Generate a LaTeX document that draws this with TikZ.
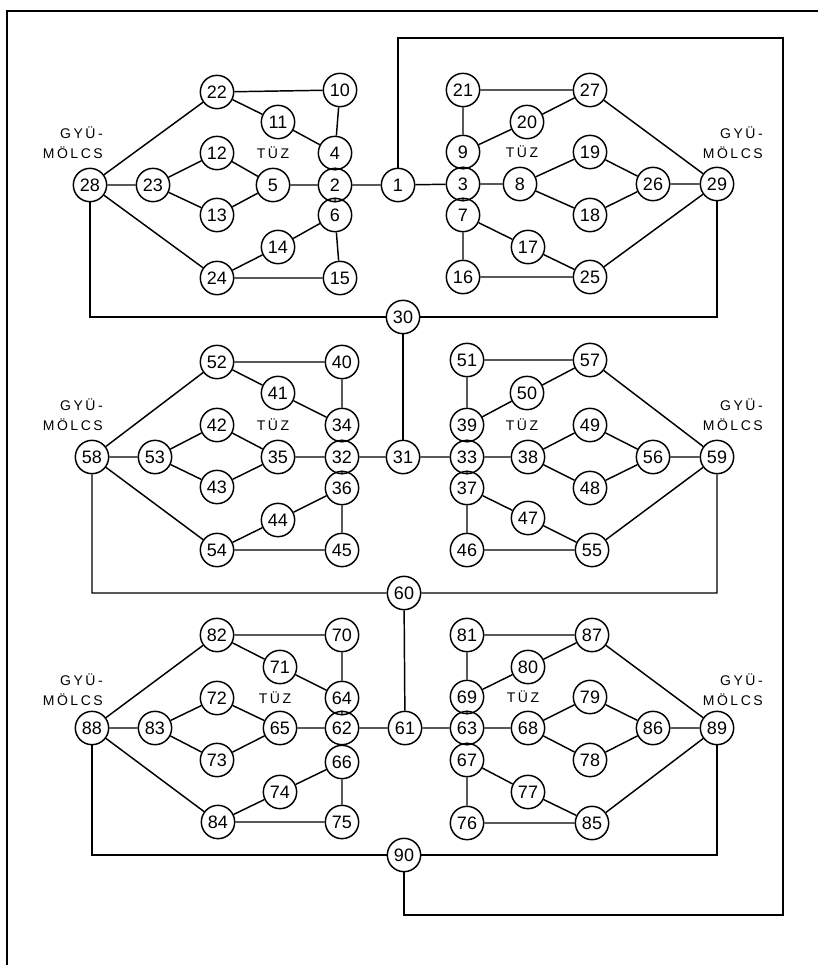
\documentclass[tikz,border=0pt]{standalone}
\usepackage{fontspec}
\setmainfont{Liberation Sans}
\newfontfamily\lblfont[LetterSpace=18]{Liberation Sans}
\usepackage{tikz}
\usetikzlibrary{positioning,calc}

\tikzset{
  nd/.style={circle,draw,line width=1.1pt,minimum size=25,inner sep=0pt,font=\fontsize{13.5}{14}\selectfont},
  tuz/.style={font=\lblfont\fontsize{10.5}{12}\selectfont},
  gyu/.style={font=\lblfont\fontsize{10.5}{15}\selectfont,align=right,anchor=east,inner sep=0pt},
  wire/.style={line width=1.1pt}
}

\begin{document}
\begin{tikzpicture}[x=0.75pt,y=-0.75pt]
  \useasboundingbox (0,0) rectangle (818,965);
  % frame
  \draw[wire] (7,965) -- (7,11) -- (818,11);

  % upper block, left half
  \node[nd] (n1) at (398,185) {1};
  \node[nd] (n2) at (335,185) {2};
  \node[nd] (n4) at (335,153) {4};
  \node[nd] (n5) at (273,185) {5};
  \node[nd] (n6) at (335,215) {6};
  \node[nd] (n10) at (340,90) {10};
  \node[nd] (n11) at (278,122) {11};
  \node[nd] (n12) at (217,153) {12};
  \node[nd] (n13) at (217,215) {13};
  \node[nd] (n14) at (278,247) {14};
  \node[nd] (n15) at (340,278) {15};
  \node[nd] (n22) at (217,92) {22};
  \node[nd] (n23) at (153,185) {23};
  \node[nd] (n24) at (217,278) {24};
  \node[nd] (n28) at (90,185) {28};
  % upper block, right half
  \node[nd] (n3) at (463,184) {3};
  \node[nd] (n7) at (463,215) {7};
  \node[nd] (n8) at (520,184) {8};
  \node[nd] (n9) at (463,152) {9};
  \node[nd] (n16) at (463,277) {16};
  \node[nd] (n17) at (528,247) {17};
  \node[nd] (n18) at (590,215) {18};
  \node[nd] (n19) at (590,152) {19};
  \node[nd] (n20) at (527,122) {20};
  \node[nd] (n21) at (463,90) {21};
  \node[nd] (n25) at (590,277) {25};
  \node[nd] (n26) at (653,184) {26};
  \node[nd] (n27) at (590,90) {27};
  \node[nd] (n29) at (717,184) {29};
  \node[nd] (n30) at (403,317) {30};

  % middle block, left half
  \node[nd] (n31) at (403,457) {31};
  \node[nd] (n32) at (342,457) {32};
  \node[nd] (n34) at (342,425) {34};
  \node[nd] (n35) at (278,457) {35};
  \node[nd] (n36) at (342,488) {36};
  \node[nd] (n40) at (342,362) {40};
  \node[nd] (n41) at (278,393) {41};
  \node[nd] (n42) at (217,425) {42};
  \node[nd] (n43) at (217,487) {43};
  \node[nd] (n44) at (278,520) {44};
  \node[nd] (n45) at (342,550) {45};
  \node[nd] (n52) at (217,362) {52};
  \node[nd] (n53) at (155,457) {53};
  \node[nd] (n54) at (217,550) {54};
  \node[nd] (n58) at (92,457) {58};
  % middle block, right half
  \node[nd] (n33) at (467,457) {33};
  \node[nd] (n37) at (467,488) {37};
  \node[nd] (n38) at (528,457) {38};
  \node[nd] (n39) at (467,425) {39};
  \node[nd] (n46) at (467,550) {46};
  \node[nd] (n47) at (528,518) {47};
  \node[nd] (n48) at (590,488) {48};
  \node[nd] (n49) at (590,425) {49};
  \node[nd] (n50) at (527,393) {50};
  \node[nd] (n51) at (467,360) {51};
  \node[nd] (n55) at (592,550) {55};
  \node[nd] (n56) at (653,457) {56};
  \node[nd] (n57) at (590,360) {57};
  \node[nd] (n59) at (717,457) {59};
  \node[nd] (n60) at (404,593) {60};

  % lower block, left half
  \node[nd] (n61) at (405,728) {61};
  \node[nd] (n62) at (342,728) {62};
  \node[nd] (n64) at (342,698) {64};
  \node[nd] (n65) at (280,728) {65};
  \node[nd] (n66) at (342,762) {66};
  \node[nd] (n70) at (342,635) {70};
  \node[nd] (n71) at (280,667) {71};
  \node[nd] (n72) at (217,698) {72};
  \node[nd] (n73) at (217,760) {73};
  \node[nd] (n74) at (280,792) {74};
  \node[nd] (n75) at (342,822) {75};
  \node[nd] (n82) at (217,635) {82};
  \node[nd] (n83) at (155,728) {83};
  \node[nd] (n84) at (218,822) {84};
  \node[nd] (n88) at (92,728) {88};
  % lower block, right half
  \node[nd] (n63) at (467,728) {63};
  \node[nd] (n67) at (467,760) {67};
  \node[nd] (n68) at (528,728) {68};
  \node[nd] (n69) at (467,697) {69};
  \node[nd] (n76) at (467,823) {76};
  \node[nd] (n77) at (528,792) {77};
  \node[nd] (n78) at (590,760) {78};
  \node[nd] (n79) at (590,697) {79};
  \node[nd] (n80) at (528,667) {80};
  \node[nd] (n81) at (467,635) {81};
  \node[nd] (n85) at (592,823) {85};
  \node[nd] (n86) at (653,728) {86};
  \node[nd] (n87) at (592,635) {87};
  \node[nd] (n89) at (717,728) {89};
  \node[nd] (n90) at (404,855) {90};

  % labels
  \node[tuz] (t1) at (273,153) {TÜZ};
  \node[tuz] (t2) at (522,152) {TÜZ};
  \node[tuz] (t3) at (273,425) {TÜZ};
  \node[tuz] (t4) at (522,425) {TÜZ};
  \node[tuz] (t5) at (275,698) {TÜZ};
  \node[tuz] (t6) at (523,697) {TÜZ};
  \node[gyu] (g1) at (103,143) {GYÜ-\\MÖLCS};
  \node[gyu] (g2) at (763,143) {GYÜ-\\MÖLCS};
  \node[gyu] (g3) at (103,415) {GYÜ-\\MÖLCS};
  \node[gyu] (g4) at (763,415) {GYÜ-\\MÖLCS};
  \node[gyu] (g5) at (103,690) {GYÜ-\\MÖLCS};
  \node[gyu] (g6) at (763,690) {GYÜ-\\MÖLCS};

  % upper block wiring
  \draw[wire] (n28) -- (n22) (n28) -- (n23) (n28) -- (n24)
    (n22) -- (n10) (n22) -- (n11) (n11) -- (n4) (n10) -- (n4)
    (n23) -- (n12) (n23) -- (n13) (n12) -- (n5) (n13) -- (n5) (n5) -- (n2)
    (n4) -- (n2) (n2) -- (n6)
    (n24) -- (n14) (n14) -- (n6) (n24) -- (n15) (n6) -- (n15)
    (n2) -- (n1) (n1) -- (n3);
  \draw[wire] (n21) -- (n27) (n21) -- (n9) (n9) -- (n20) (n20) -- (n27) (n27) -- (n29)
    (n9) -- (n3) (n3) -- (n7) (n3) -- (n8)
    (n8) -- (n19) (n8) -- (n18) (n19) -- (n26) (n18) -- (n26) (n26) -- (n29)
    (n7) -- (n17) (n17) -- (n25) (n7) -- (n16) (n16) -- (n25) (n25) -- (n29);
  \draw[wire] (n28) |- (n30) (n29) |- (n30) (n30) -- (n31);

  % middle block wiring
  \draw[wire] (n58) -- (n52) (n58) -- (n53) (n58) -- (n54)
    (n52) -- (n40) (n52) -- (n41) (n41) -- (n34) (n40) -- (n34)
    (n53) -- (n42) (n53) -- (n43) (n42) -- (n35) (n43) -- (n35) (n35) -- (n32)
    (n34) -- (n32) (n32) -- (n36)
    (n54) -- (n44) (n44) -- (n36) (n54) -- (n45) (n36) -- (n45)
    (n32) -- (n31) (n31) -- (n33);
  \draw[wire] (n51) -- (n57) (n51) -- (n39) (n39) -- (n50) (n50) -- (n57) (n57) -- (n59)
    (n39) -- (n33) (n33) -- (n37) (n33) -- (n38)
    (n38) -- (n49) (n38) -- (n48) (n49) -- (n56) (n48) -- (n56) (n56) -- (n59)
    (n37) -- (n47) (n47) -- (n55) (n37) -- (n46) (n46) -- (n55) (n55) -- (n59);
  \draw[wire] (n58) |- (n60) (n59) |- (n60) (n60) -- (n61);

  % lower block wiring
  \draw[wire] (n88) -- (n82) (n88) -- (n83) (n88) -- (n84)
    (n82) -- (n70) (n82) -- (n71) (n71) -- (n64) (n70) -- (n64)
    (n83) -- (n72) (n83) -- (n73) (n72) -- (n65) (n73) -- (n65) (n65) -- (n62)
    (n64) -- (n62) (n62) -- (n66)
    (n84) -- (n74) (n74) -- (n66) (n84) -- (n75) (n66) -- (n75)
    (n62) -- (n61) (n61) -- (n63);
  \draw[wire] (n81) -- (n87) (n81) -- (n69) (n69) -- (n80) (n80) -- (n87) (n87) -- (n89)
    (n69) -- (n63) (n63) -- (n67) (n63) -- (n68)
    (n68) -- (n79) (n68) -- (n78) (n79) -- (n86) (n78) -- (n86) (n86) -- (n89)
    (n67) -- (n77) (n77) -- (n85) (n67) -- (n76) (n76) -- (n85) (n85) -- (n89);
  \draw[wire] (n88) |- (n90) (n89) |- (n90);

  % return line
  \coordinate (wtr) at (783,38);
  \coordinate (wbr) at (783,915);
  \draw[wire] (n1) |- (wtr) -- (wbr) -| (n90);
\end{tikzpicture}
\end{document}
